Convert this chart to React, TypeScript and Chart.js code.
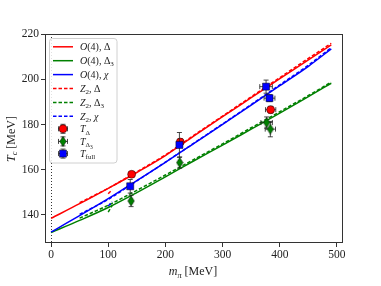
import React, { useEffect, useRef } from 'react';
import { Chart, registerables } from 'chart.js';

Chart.register(...registerables);

// ---- data ----
const xTicks = [0, 100, 200, 300, 400, 500];
const yTicks = [140, 160, 180, 200, 220];

const curveX = [0, 50, 100, 150, 200, 250, 300, 350, 400, 450, 490];
const o4Delta = [138.5, 145.0, 151.8, 158.8, 166.3, 175.0, 183.5, 191.9, 200.3, 208.6, 215.3];
const o4Delta3 = [132.2, 137.6, 143.3, 149.9, 156.9, 164.0, 170.9, 178.0, 185.1, 192.4, 198.3];
const o4Chi = [132.5, 139.7, 147.2, 155.2, 163.3, 171.7, 180.1, 188.6, 197.2, 205.8, 213.5];

const z2X = [50, 75, 100, 150, 200, 250, 300, 350, 400, 450, 490];
const z2Delta = [145.4, 148.6, 151.8, 159.1, 166.6, 175.3, 183.8, 192.3, 200.8, 209.3, 216.0];
const z2Delta3 = [138.6, 141.4, 144.3, 150.9, 157.7, 164.6, 171.5, 178.6, 185.7, 192.9, 198.8];
const z2Chi = [140.3, 143.5, 146.9, 155.1, 163.4, 171.8, 180.3, 188.9, 197.6, 206.3, 214.1];

const stubX = [100, 107];
const z2DeltaStub = [149.4, 151.2];
const z2Delta3Stub = [141.3, 144.3];
const z2ChiStub = [144.0, 145.9];

const tDeltaX = [141, 226, 384];
const tDeltaY = [158.0, 172.3, 186.6];
const tDeltaXErr = [2, 2, 9];
const tDeltaYErr = [1.2, 1.5, 1.5];

const tDelta3X = [140, 225, 377, 383.5];
const tDelta3Y = [146.2, 163.2, 180.9, 178.0];
const tDelta3XErr = [2, 2, 10, 9];
const tDelta3YErr = [2.5, 2.5, 2.5, 3.4];

const tFullX = [138.5, 224.5, 376, 382];
const tFullY = [152.7, 171.0, 196.8, 191.7];
const tFullXErr = [2, 2, 11, 9.5];
const tFullYErr = [3.0, 5.5, 2.9, 1.5];

const RED = '#ff0000';
const GREEN = '#008000';
const BLUE = '#0000ff';
const FONT = '"Liberation Serif", "DejaVu Serif", serif';

type Seg = { t: string; it?: boolean; lvl?: number };

function segFont(s: Seg, size: number) {
  const f = s.lvl === 1 ? 0.7 : s.lvl === 2 ? 0.55 : 1;
  return `${s.it ? 'italic ' : ''}${(size * f).toFixed(2)}px ${FONT}`;
}
function segOff(s: Seg, size: number) {
  return s.lvl === 1 ? size * 0.22 : s.lvl === 2 ? size * 0.36 : 0;
}
function drawRich(ctx: CanvasRenderingContext2D, segs: Seg[], x: number, y: number, size: number, align: 'left' | 'center') {
  ctx.save();
  ctx.textBaseline = 'alphabetic';
  ctx.textAlign = 'left';
  let total = 0;
  const widths = segs.map((s) => {
    ctx.font = segFont(s, size);
    const w = ctx.measureText(s.t).width;
    total += w;
    return w;
  });
  let cx = align === 'center' ? x - total / 2 : x;
  segs.forEach((s, i) => {
    ctx.font = segFont(s, size);
    ctx.fillText(s.t, cx, y + segOff(s, size));
    cx += widths[i];
  });
  ctx.restore();
}

function makeThinDiamond(): HTMLCanvasElement {
  const c = document.createElement('canvas');
  c.width = 8;
  c.height = 11;
  const g = c.getContext('2d')!;
  g.beginPath();
  g.moveTo(4, 0.5);
  g.lineTo(7.3, 5.5);
  g.lineTo(4, 10.5);
  g.lineTo(0.7, 5.5);
  g.closePath();
  g.fillStyle = GREEN;
  g.fill();
  g.strokeStyle = 'rgba(0,0,0,0.6)';
  g.lineWidth = 0.8;
  g.stroke();
  return c;
}

function pts(xs: number[], ys: number[]) {
  return xs.map((x, i) => ({ x, y: ys[i] }));
}

export default function App() {
  const ref = useRef<HTMLCanvasElement | null>(null);

  useEffect(() => {
    const canvas = ref.current!;
    const diamond = makeThinDiamond();

    const errCol = 'rgba(40,40,40,0.85)';

    const drawErr = (ctx: CanvasRenderingContext2D, px: number, py: number, x1: number, x2: number, y1: number, y2: number) => {
      const cap = 2.5;
      ctx.beginPath();
      ctx.moveTo(x1, py); ctx.lineTo(x2, py);
      ctx.moveTo(x1, py - cap); ctx.lineTo(x1, py + cap);
      ctx.moveTo(x2, py - cap); ctx.lineTo(x2, py + cap);
      ctx.moveTo(px, y1); ctx.lineTo(px, y2);
      ctx.moveTo(px - cap, y1); ctx.lineTo(px + cap, y1);
      ctx.moveTo(px - cap, y2); ctx.lineTo(px + cap, y2);
      ctx.stroke();
    };

    const plugin = {
      id: 'custom',
      beforeDatasetsDraw(chart: any) {
        const { ctx, chartArea, scales } = chart;
        const x0 = Math.round(scales.x.getPixelForValue(0)) + 0.5;
        ctx.save();
        ctx.strokeStyle = '#000';
        ctx.lineWidth = 0.8;
        ctx.setLineDash([1, 2]);
        ctx.beginPath();
        ctx.moveTo(x0, chartArea.top);
        ctx.lineTo(x0, chartArea.bottom);
        ctx.stroke();
        ctx.restore();
      },
      beforeDatasetDraw(chart: any, args: any) {
        const ds = chart.data.datasets[args.index];
        if (!ds.errX) return;
        const { ctx, scales } = chart;
        ctx.save();
        ctx.strokeStyle = errCol;
        ctx.lineWidth = 1;
        ds.data.forEach((p: any, i: number) => {
          const px = scales.x.getPixelForValue(p.x);
          const py = scales.y.getPixelForValue(p.y);
          drawErr(
            ctx, px, py,
            scales.x.getPixelForValue(p.x - ds.errX[i]),
            scales.x.getPixelForValue(p.x + ds.errX[i]),
            scales.y.getPixelForValue(p.y + ds.errY[i]),
            scales.y.getPixelForValue(p.y - ds.errY[i])
          );
        });
        ctx.restore();
      },
      afterDatasetsDraw(chart: any) {
        const { ctx, chartArea } = chart;
        // frame
        ctx.save();
        ctx.strokeStyle = '#333';
        ctx.lineWidth = 1;
        ctx.strokeRect(chartArea.left + 0.5, chartArea.top + 0.5, chartArea.right - chartArea.left - 1, chartArea.bottom - chartArea.top - 1);
        ctx.restore();

        // legend
        ctx.save();
        const bx = 49.5, by = 38.5, bw = 67.5, bh = 124.5, r = 3;
        ctx.beginPath();
        ctx.moveTo(bx + r, by);
        ctx.lineTo(bx + bw - r, by);
        ctx.arcTo(bx + bw, by, bx + bw, by + r, r);
        ctx.lineTo(bx + bw, by + bh - r);
        ctx.arcTo(bx + bw, by + bh, bx + bw - r, by + bh, r);
        ctx.lineTo(bx + r, by + bh);
        ctx.arcTo(bx, by + bh, bx, by + bh - r, r);
        ctx.lineTo(bx, by + r);
        ctx.arcTo(bx, by, bx + r, by, r);
        ctx.closePath();
        ctx.fillStyle = 'rgba(255,255,255,0.85)';
        ctx.fill();
        ctx.strokeStyle = '#d0d0d0';
        ctx.lineWidth = 1;
        ctx.stroke();

        const lineRows: { c: string; dash: boolean; segs: Seg[] }[] = [
          { c: RED, dash: false, segs: [{ t: 'O', it: true }, { t: '(4), Δ' }] },
          { c: GREEN, dash: false, segs: [{ t: 'O', it: true }, { t: '(4), Δ' }, { t: '3', lvl: 1 }] },
          { c: BLUE, dash: false, segs: [{ t: 'O', it: true }, { t: '(4), ' }, { t: 'χ', it: true }] },
          { c: RED, dash: true, segs: [{ t: 'Z', it: true }, { t: '2', lvl: 1 }, { t: ', Δ' }] },
          { c: GREEN, dash: true, segs: [{ t: 'Z', it: true }, { t: '2', lvl: 1 }, { t: ', Δ' }, { t: '3', lvl: 1 }] },
          { c: BLUE, dash: true, segs: [{ t: 'Z', it: true }, { t: '2', lvl: 1 }, { t: ', ' }, { t: 'χ', it: true }] },
        ];
        const fs = 10;
        ctx.fillStyle = '#222';
        lineRows.forEach((row, i) => {
          const y = 46.8 + i * 13.9;
          ctx.strokeStyle = row.c;
          ctx.lineWidth = 1.5;
          ctx.setLineDash(row.dash ? [3.5, 2] : []);
          ctx.beginPath();
          ctx.moveTo(53, y);
          ctx.lineTo(73, y);
          ctx.stroke();
          ctx.setLineDash([]);
          ctx.fillStyle = '#222';
          drawRich(ctx, row.segs, 80, y + 3.5, fs, 'left');
        });
        const mRows: { kind: string; segs: Seg[]; y: number }[] = [
          { kind: 'c', y: 128.8, segs: [{ t: 'T', it: true }, { t: 'Δ', lvl: 1 }] },
          { kind: 'd', y: 141.4, segs: [{ t: 'T', it: true }, { t: 'Δ', lvl: 1 }, { t: '3', lvl: 2 }] },
          { kind: 's', y: 153.6, segs: [{ t: 'T', it: true }, { t: 'full', lvl: 1 }] },
        ];
        mRows.forEach((row) => {
          const mx = 63, my = row.y;
          ctx.strokeStyle = errCol;
          ctx.lineWidth = 1;
          drawErr(ctx, mx, my, mx - 4.5, mx + 4.5, my - 4.5, my + 4.5);
          ctx.strokeStyle = 'rgba(0,0,0,0.6)';
          ctx.lineWidth = 0.8;
          if (row.kind === 'c') {
            ctx.beginPath();
            ctx.arc(mx, my, 4, 0, Math.PI * 2);
            ctx.fillStyle = RED;
            ctx.fill();
            ctx.stroke();
          } else if (row.kind === 'd') {
            ctx.drawImage(diamond, mx - 4, my - 5.5);
          } else {
            ctx.fillStyle = BLUE;
            ctx.fillRect(mx - 3.5, my - 3.5, 7, 7);
            ctx.strokeRect(mx - 3.5, my - 3.5, 7, 7);
          }
          ctx.fillStyle = '#222';
          drawRich(ctx, row.segs, 80, my + 3.5, fs, 'left');
        });
        ctx.restore();
      },
      afterDraw(chart: any) {
        const { ctx, chartArea } = chart;
        ctx.save();
        ctx.fillStyle = '#222';
        const cx = (chartArea.left + chartArea.right) / 2 - 1;
        drawRich(ctx, [{ t: 'm', it: true }, { t: 'π', it: true, lvl: 1 }, { t: ' [MeV]' }], cx, 275, 12, 'center');
        ctx.translate(14.5, 139);
        ctx.rotate(-Math.PI / 2);
        drawRich(ctx, [{ t: 'T', it: true }, { t: 'c', it: true, lvl: 1 }, { t: ' [MeV]' }], 0, 0, 12, 'center');
        ctx.restore();
      },
    };

    const lineDs = (label: string, xs: number[], ys: number[], color: string, dashed: boolean) => ({
      label,
      data: pts(xs, ys),
      showLine: true,
      borderColor: color,
      backgroundColor: color,
      borderWidth: 1.5,
      borderDash: dashed ? [3.5, 2] : [],
      pointRadius: 0,
      fill: false,
      cubicInterpolationMode: 'monotone',
    });

    const chart = new Chart(canvas, {
      type: 'scatter',
      data: {
        datasets: [
          {
            label: 'T_full',
            data: pts(tFullX, tFullY),
            errX: tFullXErr,
            errY: tFullYErr,
            pointStyle: 'rect',
            pointRadius: 5,
            backgroundColor: BLUE,
            borderColor: 'rgba(0,0,0,0.6)',
            borderWidth: 0.8,
            showLine: false,
          } as any,
          {
            label: 'T_Delta3',
            data: pts(tDelta3X, tDelta3Y),
            errX: tDelta3XErr,
            errY: tDelta3YErr,
            pointStyle: diamond,
            pointRadius: 5,
            showLine: false,
          } as any,
          {
            label: 'T_Delta',
            data: pts(tDeltaX, tDeltaY),
            errX: tDeltaXErr,
            errY: tDeltaYErr,
            pointStyle: 'circle',
            pointRadius: 4,
            backgroundColor: RED,
            borderColor: 'rgba(0,0,0,0.6)',
            borderWidth: 0.8,
            showLine: false,
          } as any,
          lineDs('Z2 chi stub', stubX, z2ChiStub, BLUE, true),
          lineDs('Z2 Delta3 stub', stubX, z2Delta3Stub, GREEN, true),
          lineDs('Z2 Delta stub', stubX, z2DeltaStub, RED, true),
          lineDs('Z2 chi', z2X, z2Chi, BLUE, true),
          lineDs('Z2 Delta3', z2X, z2Delta3, GREEN, true),
          lineDs('Z2 Delta', z2X, z2Delta, RED, true),
          lineDs('O4 chi', curveX, o4Chi, BLUE, false),
          lineDs('O4 Delta3', curveX, o4Delta3, GREEN, false),
          lineDs('O4 Delta', curveX, o4Delta, RED, false),
        ],
      },
      options: {
        responsive: false,
        animation: false,
        devicePixelRatio: 1,
        layout: { padding: { top: 34, right: 38, left: 0, bottom: 0 } },
        plugins: { legend: { display: false }, tooltip: { enabled: false } },
        scales: {
          x: {
            type: 'linear',
            min: -10.5,
            max: 510.5,
            afterFit: (s: any) => { s.height = 43; },
            afterBuildTicks: (s: any) => { s.ticks = xTicks.map((v) => ({ value: v })); },
            grid: { drawOnChartArea: false, drawTicks: true, tickLength: 4, tickColor: '#333' },
            border: { display: false },
            ticks: {
              autoSkip: false,
              maxRotation: 0,
              padding: 1,
              color: '#222',
              font: { family: FONT, size: 11.5 },
              callback: (v: any) => String(v),
            },
          },
          y: {
            type: 'linear',
            min: 127.6,
            max: 220.1,
            afterFit: (s: any) => { s.width = 45; },
            afterBuildTicks: (s: any) => { s.ticks = yTicks.map((v) => ({ value: v })); },
            grid: { drawOnChartArea: false, drawTicks: true, tickLength: 4, tickColor: '#333' },
            border: { display: false },
            ticks: {
              autoSkip: false,
              padding: 2,
              color: '#222',
              font: { family: FONT, size: 11.5 },
              callback: (v: any) => String(v),
            },
          },
        },
      } as any,
      plugins: [plugin],
    });

    return () => chart.destroy();
  }, []);

  return (
    <div style={{ position: 'fixed', left: 0, top: 0, width: 381, height: 286, background: '#fff' }}>
      <canvas ref={ref} width={381} height={286} style={{ width: 381, height: 286, display: 'block' }} />
    </div>
  );
}
